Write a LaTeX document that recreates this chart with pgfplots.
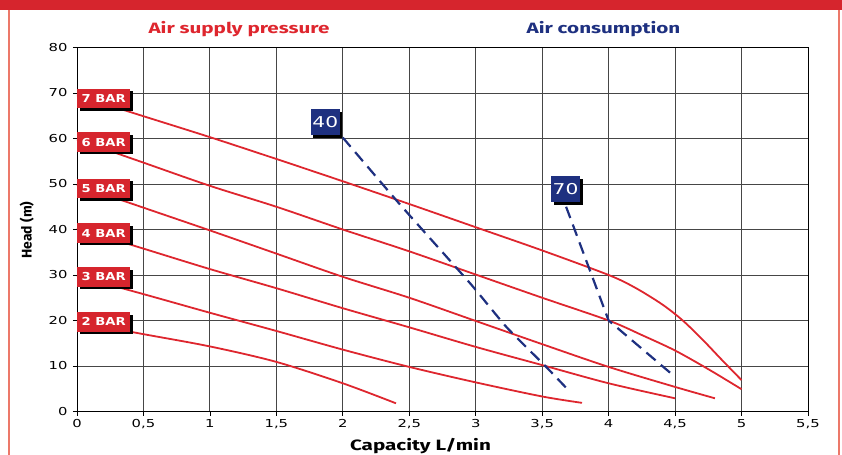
\documentclass[border=0pt]{standalone}
\usepackage{pgfplots}
\pgfplotsset{compat=1.18}
\usepackage{fontspec}
\setmainfont{Fira Sans}
\newfontfamily\titlefont[FakeStretch=1.38]{Fira Sans}
\newfontfamily\tickfont[FakeStretch=1.35]{DejaVu Sans}
\newfontfamily\boxfont[FakeStretch=1.2]{DejaVu Sans}
\usetikzlibrary{shadows}
\definecolor{bandred}{RGB}{214,37,45}
\definecolor{curvered}{RGB}{222,38,46}
\definecolor{navy}{RGB}{30,48,128}
\definecolor{borderpink}{RGB}{236,120,105}
\definecolor{gridgray}{RGB}{70,70,70}
\begin{document}
\begin{tikzpicture}
\useasboundingbox (-77bp,-43.5bp) rectangle (765bp,411.5bp);
\fill[bandred] (-77bp,401bp) rectangle (765bp,411.5bp);
\draw[borderpink, line width=1.2bp] (-68bp,401bp) -- (-68bp,-43.5bp);
\draw[borderpink, line width=1.2bp] (762bp,401bp) -- (762bp,-43.5bp);
\node[font=\titlefont\bfseries\fontsize{15}{17}\selectfont, text=curvered] at (162bp,382.5bp) {Air supply pressure};
\node[font=\titlefont\bfseries\fontsize{15}{17}\selectfont, text=navy] at (526.5bp,382.5bp) {Air consumption};
\node[font=\titlefont\bfseries\fontsize{15}{17}\selectfont] at (343.5bp,-34.5bp) {Capacity L/min};
\node[font=\bfseries\fontsize{14}{16}\selectfont, rotate=90] at (-50.3bp,181.5bp) {Head (m)};
\begin{axis}[
  at={(0,0)}, anchor=south west,
  scale only axis, width=731bp, height=364bp,
  xmin=0, xmax=5.5, ymin=0, ymax=80,
  xtick={0,0.5,1,1.5,2,2.5,3,3.5,4,4.5,5,5.5},
  xticklabels={0,{0,5},1,{1,5},2,{2,5},3,{3,5},4,{4,5},5,{5,5}},
  ytick={0,10,20,30,40,50,60,70,80},
  yticklabels={0,10,20,30,40,50,60,70,80},
  xtick pos=bottom, ytick pos=left,
  tick align=outside, major tick length=4bp,
  tick style={black, line width=0.8bp},
  ticklabel style={font=\tickfont\fontsize{11}{13}\selectfont},
  yticklabel style={xshift=-2bp},
  grid=major,
  major grid style={gridgray, line width=0.9bp},
  axis line style={black, line width=0.9bp},
  clip=false,
]
% 7 BAR
\addplot[curvered, line width=1.8bp, smooth, tension=0.5] coordinates {(0,69.5)(0.5,64.9)(1,60.3)(1.5,55.5)(2,50.6)(2.5,45.6)(3,40.5)(3.5,35.4)(4,30)(4.2,27.2)(4.4,23.6)(4.55,20.2)(4.7,16)(4.85,11.4)(5,6.9)};
% 6 BAR
\addplot[curvered, line width=1.8bp, smooth, tension=0.5] coordinates {(0,59.8)(0.5,54.7)(1,49.6)(1.5,45)(2,40)(2.5,35.2)(3,30.1)(3.5,25)(4,20)(4.25,16.8)(4.5,13.4)(4.75,9.3)(5,4.9)};
% 5 BAR
\addplot[curvered, line width=1.8bp, smooth, tension=0.5] coordinates {(0,49.8)(0.5,44.8)(1,39.8)(1.5,34.7)(2,29.6)(2.5,25)(3,19.9)(3.5,14.8)(4,9.8)(4.5,5.4)(4.8,2.9)};
% 4 BAR
\addplot[curvered, line width=1.8bp, smooth, tension=0.5] coordinates {(0,40.3)(0.5,35.8)(1,31.3)(1.5,27.1)(2,22.7)(2.5,18.5)(3,14.2)(3.5,10.2)(4,6.2)(4.5,2.9)};
% 3 BAR
\addplot[curvered, line width=1.8bp, smooth, tension=0.5] coordinates {(0,29.8)(0.5,25.8)(1,21.7)(1.5,17.7)(2,13.6)(2.5,9.8)(3,6.4)(3.5,3.3)(3.8,1.9)};
% 2 BAR
\addplot[curvered, line width=1.8bp, smooth, tension=0.5] coordinates {(0,19.7)(0.5,17)(1,14.3)(1.5,10.9)(2,6.2)(2.4,1.8)};
% air consumption 40
\addplot[navy, line width=2.2bp, dash pattern=on 12bp off 7bp, smooth, tension=0.3] coordinates {(2,60.2)(2.43,45.5)(2.96,28.1)(3.23,18.6)(3.53,9.8)(3.7,4.6)};
% air consumption 70
\addplot[navy, line width=2.2bp, dash pattern=on 12bp off 7bp] coordinates {(3.68,45)(4,20)(4.5,7.6)};
% labels
\foreach \yv/\t in {68.8/7,59.2/6,49.0/5,39.2/4,29.6/3,19.7/2}{
  \edef\tmp{\noexpand\node[fill=bandred, text=white, anchor=west, minimum width=53bp, minimum height=19.5bp, inner sep=0pt,
    font=\noexpand\boxfont\noexpand\bfseries\noexpand\fontsize{11}{12}\noexpand\selectfont,
    drop shadow={shadow xshift=2.5bp, shadow yshift=-2.5bp, fill=black, opacity=1}] at (axis cs:0,\yv) {\t\space BAR};}
  \tmp
}
\node[fill=navy, text=white, minimum width=29bp, minimum height=26bp, inner sep=0pt,
  font=\tickfont\fontsize{15}{17}\selectfont,
  drop shadow={shadow xshift=2.5bp, shadow yshift=-2.5bp, fill=black, opacity=1}] at (axis cs:1.868,63.6) {40};
\node[fill=navy, text=white, minimum width=29bp, minimum height=26bp, inner sep=0pt,
  font=\tickfont\fontsize{15}{17}\selectfont,
  drop shadow={shadow xshift=2.5bp, shadow yshift=-2.5bp, fill=black, opacity=1}] at (axis cs:3.676,48.9) {70};
\end{axis}
\end{tikzpicture}
\end{document}
